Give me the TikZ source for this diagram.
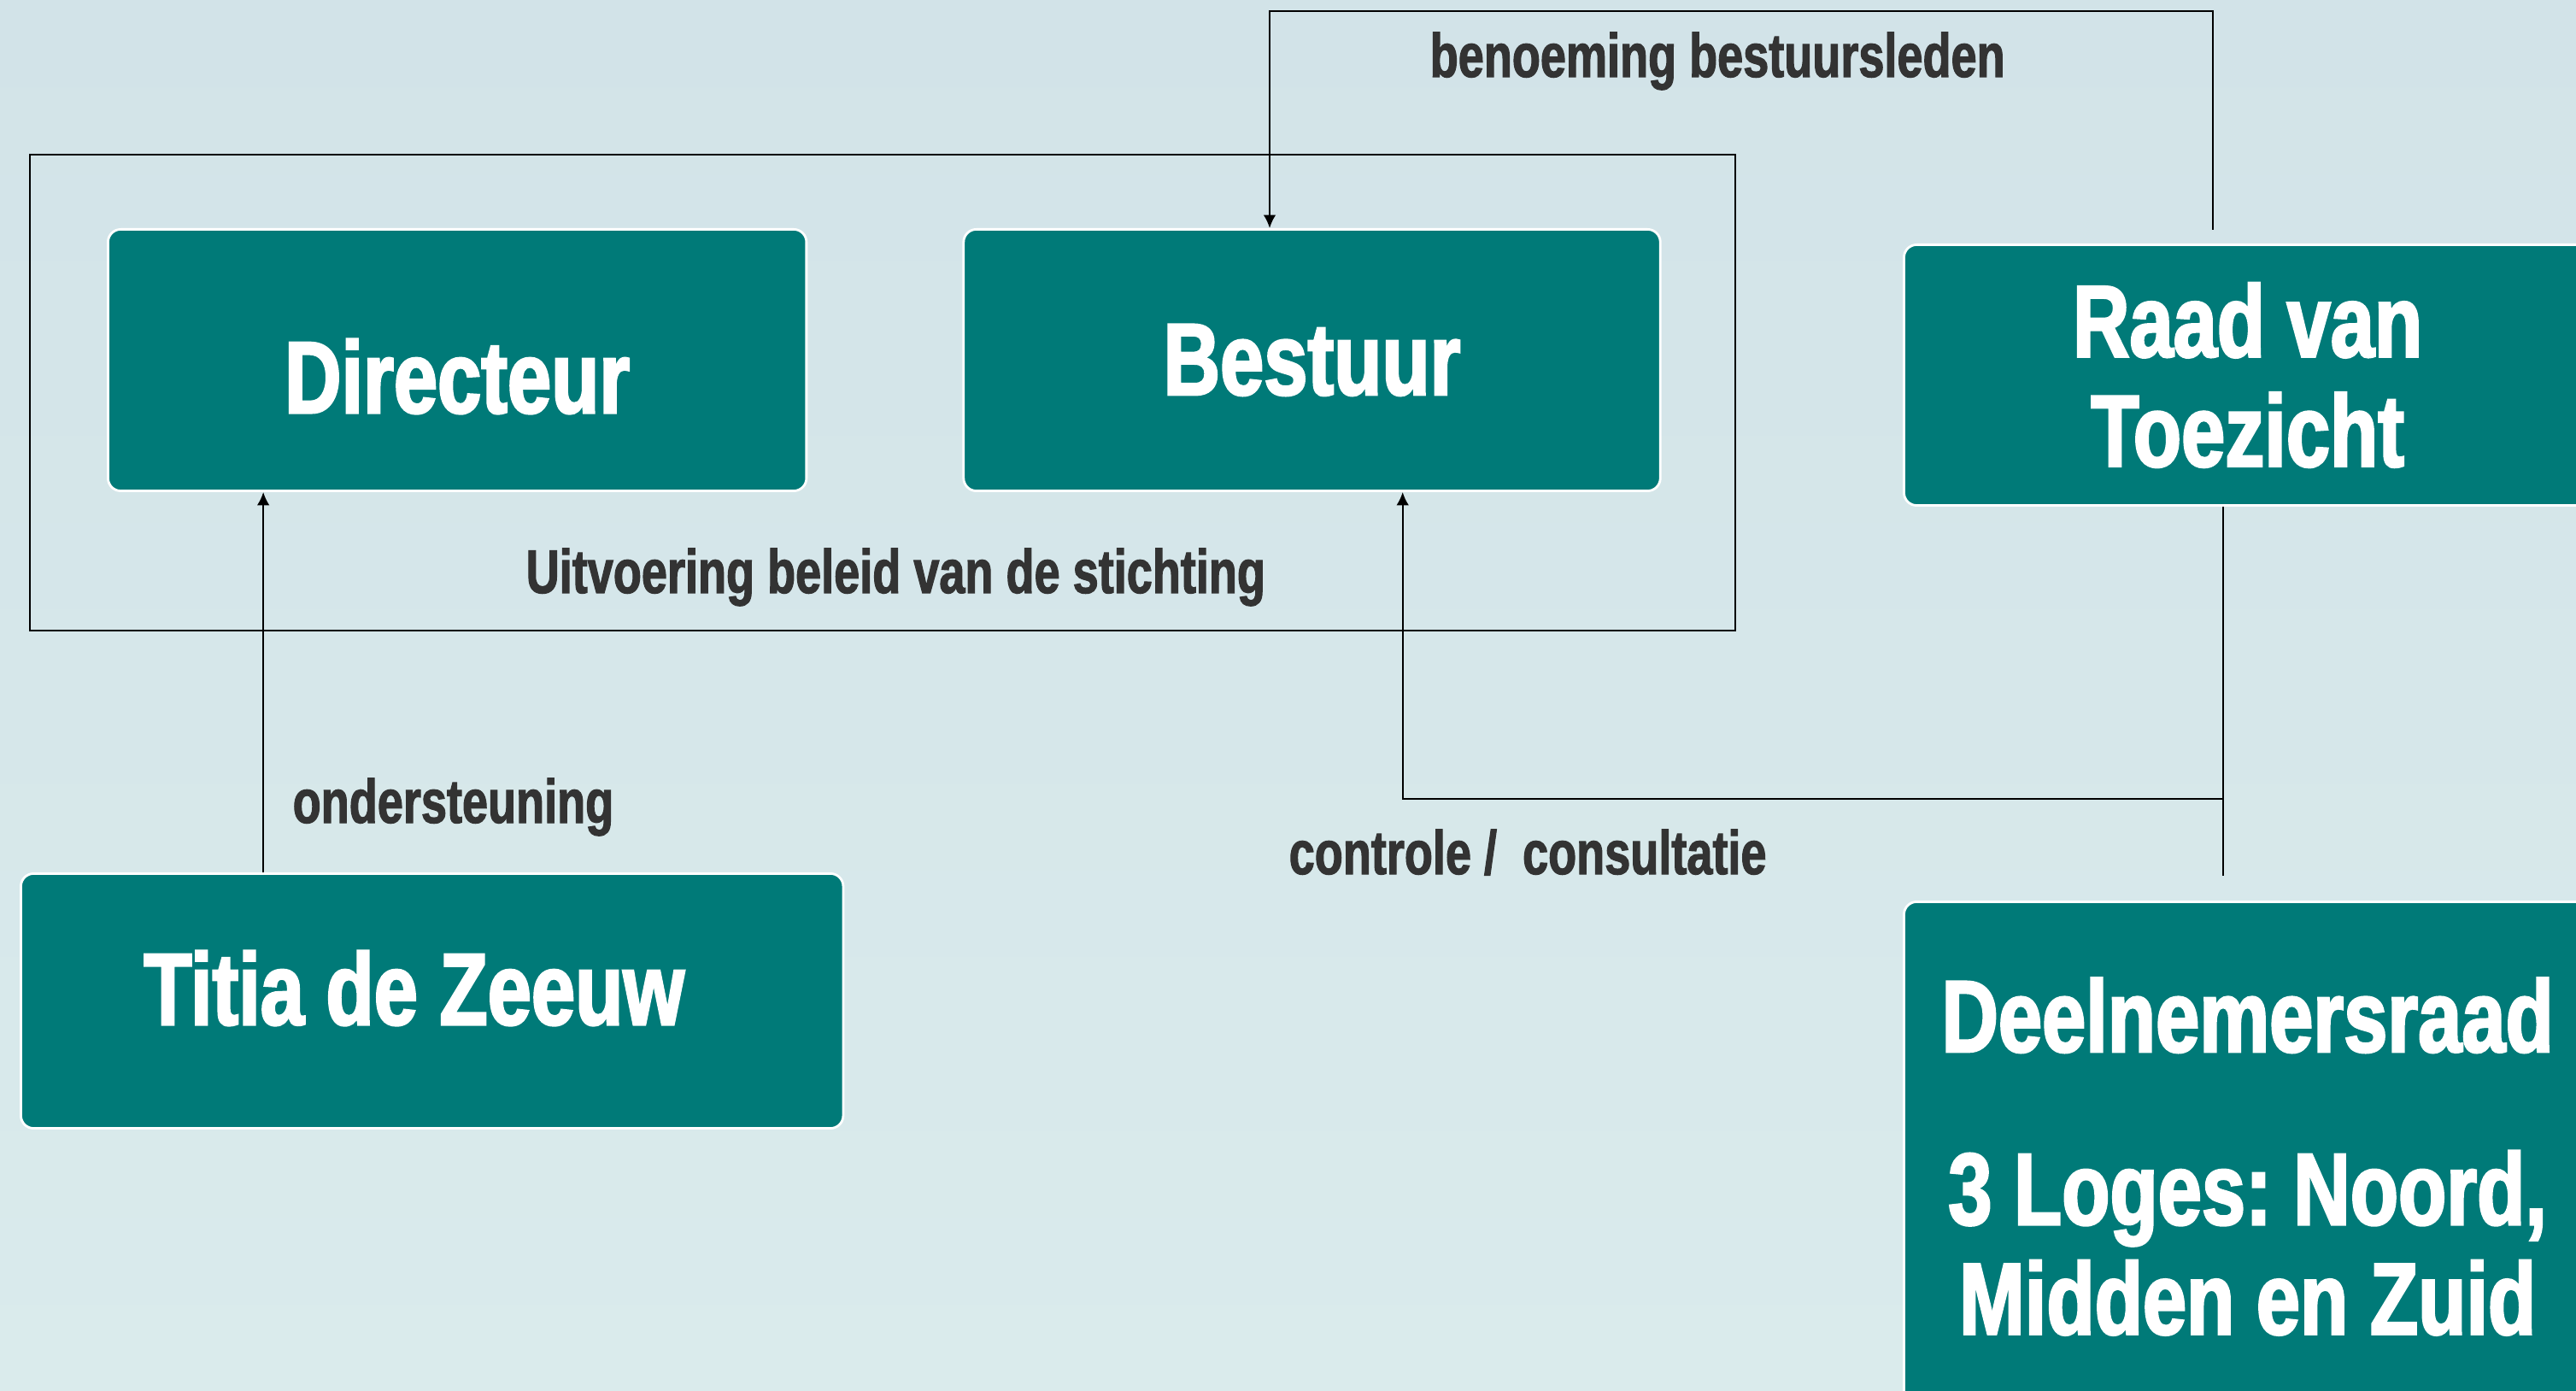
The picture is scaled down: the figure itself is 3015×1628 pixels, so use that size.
\documentclass[tikz,border=0pt]{standalone}
\usepackage{fontspec}
\setmainfont{Liberation Sans}[FakeStretch=0.76]
\newfontfamily\boxfont{Liberation Sans}[FakeStretch=0.77, FakeBold=2.2]
\newfontfamily\relfont{Liberation Sans}[FakeStretch=0.75, FakeBold=1.6]
\frenchspacing
\usetikzlibrary{arrows.meta}
\usetikzlibrary{positioning}
\definecolor{boxteal}{RGB}{0,122,120}
\definecolor{bgtop}{RGB}{210,227,232}
\definecolor{bgbottom}{RGB}{218,235,236}
\definecolor{labelgrey}{RGB}{51,51,51}
\tikzstyle{every picture}=[>={Latex[length=4.4pt, width=4.2pt]}]
\tikzstyle{orgbox}=[draw=white, line width=0.8pt, fill=boxteal, rounded corners=0.15cm,
  text=white, font=\boxfont\bfseries\fontsize{34}{36.5}\selectfont, align=center, inner sep=0pt]
\tikzstyle{relation}=[text=labelgrey, font=\relfont\bfseries\fontsize{20.5}{24}\selectfont,
  anchor=base west, inner sep=0pt]
\tikzstyle{link}=[line width=0.6pt, draw=black]

\begin{document}
\begin{tikzpicture}[x=0.01cm, y=-0.01cm]
\useasboundingbox (0,0) rectangle (3015,1628);
\clip (0,0) rectangle (3015,1628);
\shade[top color=bgtop, bottom color=bgbottom] (0,0) rectangle (3015,1628);

\draw[link] (35,181) rectangle (2031,738);

\node[orgbox, minimum width=8.17cm, minimum height=3.06cm, anchor=north west] (Directeur) at (125,267)
  {\raisebox{-0.19cm}[\height][\depth]{Directeur}};
\node[orgbox, minimum width=8.15cm, minimum height=3.06cm, right=1.81cm of Directeur] (Bestuur) {Bestuur};
\node[orgbox, minimum width=8.04cm, minimum height=3.05cm, anchor=north west] (RaadVanToezicht) at (2227,285) {Raad van\\Toezicht};
\node[orgbox, minimum width=9.62cm, minimum height=2.98cm, anchor=north west] (TitiaDeZeeuw) at (23,1021)
  {\raisebox{0.15cm}[\height][\depth]{Titia de Zeeuw\hspace{0.42cm}}};
\node[orgbox, minimum width=8.04cm, minimum height=5.96cm, anchor=north west] (Deelnemersraad) at (2227,1054)
  {Deelnemersraad\\[21pt]3 Loges: Noord,\\Midden en Zuid};

\node[relation] (Benoeming) at (1673,90) {benoeming bestuursleden};
\node[relation] (Uitvoering) at (615,694) {Uitvoering beleid van de stichting};
\node[relation] (Ondersteuning) at (342,963) {ondersteuning};
\node[relation] (Controle) at (1508,1023) {controle /~ consultatie};

\coordinate (BenoemingTop) at (1486,13);
\coordinate (OndersteuningIn) at ([xshift=2.85cm] TitiaDeZeeuw.north west);
\coordinate (ControleOut) at ([xshift=3.75cm] RaadVanToezicht.south west);
\coordinate (ControleIn) at ([xshift=5.15cm] Bestuur.south west);
\coordinate (ControleY) at (0,935);
\coordinate (DnrTop) at ([yshift=0.29cm] Deelnemersraad.north);

\draw[link, ->] ([xshift=3.63cm, yshift=0.16cm] RaadVanToezicht.north west) |- (BenoemingTop)
          -- (BenoemingTop |- Bestuur.north);
\draw[link, ->] (OndersteuningIn) -- (OndersteuningIn |- Directeur.south);
\draw[link] (ControleOut) -- (ControleOut |- DnrTop);
\draw[link, ->] (ControleOut |- ControleY) -| (ControleIn);

\end{tikzpicture}
\end{document}
